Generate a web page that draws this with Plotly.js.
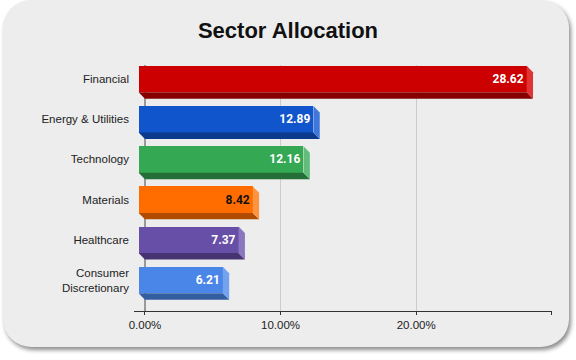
<!DOCTYPE html>
<html>
<head>
<meta charset="utf-8">
<script src="https://cdn.plot.ly/plotly-3.0.1.min.js"></script>
<style>
  html, body { margin: 0; padding: 0; background: #ffffff; }
  #wrap { position: relative; width: 576px; height: 360px; overflow: hidden; }
  #card { position: absolute; left: 3px; top: 0px; width: 566px; height: 347px;
          background: #ededed; border-radius: 28px;
          box-shadow: 2px 3px 4px rgba(0,0,0,0.45); }
  #chart { position: absolute; left: 0; top: 0; width: 576px; height: 360px; }
</style>
</head>
<body>
<div id="wrap">
  <div id="card"></div>
  <div id="chart"></div>
</div>
<script>
// ---- data ----
const categories = ['Financial', 'Energy & Utilities', 'Technology', 'Materials', 'Healthcare', 'Consumer<br>Discretionary'];
const values = [28.62, 12.89, 12.16, 8.42, 7.37, 6.21];
const xTickVals = [0, 10, 20, 30];
const xTickText = ['0.00%', '10.00%', '20.00%', ''];

// ---- styles ----
const frontColors  = ['#cc0000', '#1155cc', '#34a853', '#ff6d01', '#674ea7', '#4a86e8'];
const bottomColors = ['#870000', '#0c3a8c', '#236f37', '#b04b00', '#463472', '#335da1'];
const sideColors   = ['#e03434', '#3f78da', '#62bd7c', '#ff9440', '#8a76bf', '#73a2ee'];
const textColors   = ['#ffffff', '#ffffff', '#ffffff', '#111111', '#ffffff', '#ffffff'];

const dx = 0.47;   // depth offset along x (data units)
const dy = 0.16;   // depth offset along y (category index units)
const w = 0.66;    // bar thickness

const idx = values.map((v, i) => i);
const frontY = idx.map(i => i - dy);

const bars = {
  type: 'bar',
  orientation: 'h',
  y: frontY,
  x: values,
  base: values.map(() => -dx),
  width: w,
  marker: { color: frontColors, line: { width: 0 } },
  text: values.map(v => v.toFixed(2)),
  textposition: 'inside',
  insidetextanchor: 'end',
  textfont: { family: 'Roboto, Arial, sans-serif', size: 12, color: textColors, weight: 'bold' },
  hoverinfo: 'skip',
  cliponaxis: false
};

const shapes = [];
values.forEach((v, i) => {
  const fTop = i - dy - w / 2, fBot = i - dy + w / 2;
  const bTop = i - w / 2, bBot = i + w / 2;
  shapes.push({
    type: 'path', xref: 'x', yref: 'y', layer: 'above',
    path: `M ${-dx} ${fBot} L ${v - dx} ${fBot} L ${v} ${bBot} L 0 ${bBot} Z`,
    fillcolor: bottomColors[i], line: { width: 0 }
  });
  shapes.push({
    type: 'path', xref: 'x', yref: 'y', layer: 'above',
    path: `M ${v - dx} ${fTop} L ${v} ${bTop} L ${v} ${bBot} L ${v - dx} ${fBot} Z`,
    fillcolor: sideColors[i], line: { width: 0 }
  });
});

const labelFont = { family: 'Liberation Sans, Arial, sans-serif', size: 11.5, color: '#222222' };

const layout = {
  width: 576, height: 360,
  margin: { l: 134, r: 24, t: 65, b: 49, pad: 0 },
  paper_bgcolor: 'rgba(0,0,0,0)',
  plot_bgcolor: 'rgba(0,0,0,0)',
  showlegend: false,
  title: {
    text: 'Sector Allocation',
    font: { family: 'Liberation Sans, Arial, sans-serif', size: 22, color: '#111111', weight: 'bold' },
    x: 0.5, xref: 'container', xanchor: 'center',
    y: 0.915, yref: 'container', yanchor: 'middle'
  },
  xaxis: {
    range: [-0.81, 30.02],
    tickvals: xTickVals, ticktext: xTickText,
    showgrid: true, gridcolor: '#cccccc', gridwidth: 1,
    zeroline: true, zerolinecolor: '#999999', zerolinewidth: 1.5,
    showline: true, linecolor: '#333333', linewidth: 1,
    ticks: 'outside', ticklen: 3, tickcolor: '#333333',
    tickfont: labelFont, fixedrange: true
  },
  yaxis: {
    range: [5.61, -0.51],
    tickvals: frontY, ticktext: categories,
    showgrid: false, zeroline: false, showline: false,
    ticks: '', ticklabelstandoff: 4,
    tickfont: labelFont, fixedrange: true
  },
  shapes: shapes,
  bargap: 0
};

Plotly.newPlot('chart', [bars], layout, { displayModeBar: false, staticPlot: true });
</script>
</body>
</html>
